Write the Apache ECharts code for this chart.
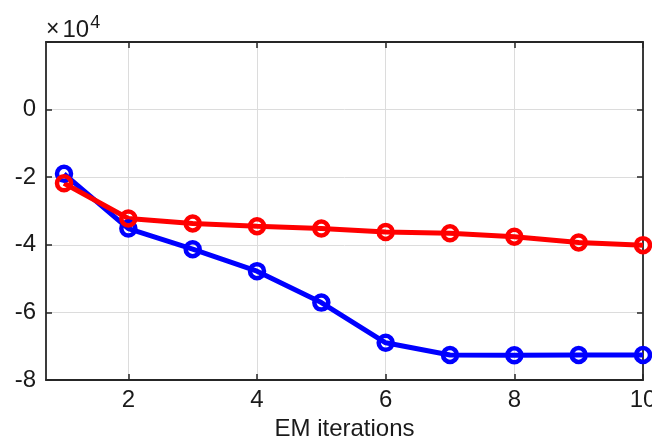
<!DOCTYPE html>
<html>
<head>
<meta charset="utf-8">
<script src="https://cdn.jsdelivr.net/npm/echarts@6/dist/echarts.min.js"></script>
<style>
  html, body { margin: 0; padding: 0; background: #fff; }
  #chart { width: 652px; height: 438px; }
</style>
</head>
<body>
<div id="chart"></div>
<script>
// EM iteration index
const iterations = [1, 2, 3, 4, 5, 6, 7, 8, 9, 10];
// objective values, in units of 1e4
const blueValues = [-1.9, -3.52, -4.13, -4.78, -5.71, -6.9, -7.26, -7.27, -7.26, -7.26];
const redValues = [-2.18, -3.22, -3.37, -3.45, -3.52, -3.62, -3.66, -3.76, -3.93, -4.01];
// axis ticks
const xTicks = [2, 4, 6, 8, 10];
const yTicks = [-8, -6, -4, -2, 0];
const xLabel = 'EM iterations';

const axisColor = '#262626';
const textColor = '#1a1a1a';
const font = 'Liberation Sans, Arial, sans-serif';

const chart = echarts.init(document.getElementById('chart'), null, { renderer: 'canvas' });

function pairs(vals) {
  return iterations.map((x, i) => [x, vals[i]]);
}

function lineSeries(vals, color) {
  return {
    type: 'line',
    data: pairs(vals),
    symbol: 'circle',
    symbolSize: 14,
    lineStyle: { color: color, width: 5 },
    itemStyle: { color: 'transparent', borderColor: color, borderWidth: 4.5 },
    emphasis: { disabled: true },
    animation: false,
    z: 3
  };
}

const option = {
  animation: false,
  grid: { left: 46, right: 9, top: 42, height: 338, outerBoundsMode: 'none', containLabel: false },
  graphic: [{
    type: 'text',
    left: 46,
    top: 14,
    style: {
      text: '{m|×}{b|10}{s|4}',
      fill: textColor,
      rich: {
        m: { fontSize: 23, fontFamily: font, fill: textColor, padding: [0, 3, 0, 0] },
        b: { fontSize: 24, fontFamily: font, fill: textColor },
        s: { fontSize: 18, fontFamily: font, fill: textColor, padding: [0, 0, 14, 1] }
      }
    }
  }],
  xAxis: [{
    type: 'value',
    min: 0.72,
    max: 10,
    name: xLabel,
    nameLocation: 'middle',
    nameGap: 33,
    nameTextStyle: { fontFamily: font, fontSize: 24, color: textColor },
    axisLine: { show: true, onZero: false, lineStyle: { color: axisColor, width: 1.8 } },
    axisTick: { show: true, inside: true, length: 6, customValues: xTicks, lineStyle: { color: axisColor, width: 1.5 } },
    axisLabel: { customValues: xTicks, fontFamily: font, fontSize: 24, color: textColor, margin: 8 },
    splitLine: { show: true, customValues: xTicks, lineStyle: { color: '#dcdcdc', width: 1 } }
  }, {
    type: 'value',
    position: 'top',
    min: 0.72,
    max: 10,
    axisLine: { show: true, onZero: false, lineStyle: { color: axisColor, width: 1.8 } },
    axisTick: { show: true, inside: true, length: 6, customValues: xTicks, lineStyle: { color: axisColor, width: 1.5 } },
    axisLabel: { show: false },
    splitLine: { show: false }
  }],
  yAxis: [{
    type: 'value',
    min: -8,
    max: 2,
    interval: 2,
    axisLine: { show: true, onZero: false, lineStyle: { color: axisColor, width: 1.8 } },
    axisTick: { show: true, inside: true, length: 6, lineStyle: { color: axisColor, width: 1.5 } },
    axisLabel: {
      fontFamily: font, fontSize: 24, color: textColor, margin: 10,
      formatter: v => (yTicks.indexOf(v) >= 0 ? String(v).replace('\u2212', '-') : '')
    },
    splitLine: { show: true, lineStyle: { color: '#dcdcdc', width: 1 } }
  }, {
    type: 'value',
    position: 'right',
    min: -8,
    max: 2,
    interval: 2,
    axisLine: { show: true, onZero: false, lineStyle: { color: axisColor, width: 1.8 } },
    axisTick: { show: true, inside: true, length: 6, lineStyle: { color: axisColor, width: 1.5 } },
    axisLabel: { show: false },
    splitLine: { show: false }
  }],
  series: [
    lineSeries(blueValues, '#0000ff'),
    lineSeries(redValues, '#ff0000')
  ]
};

chart.setOption(option);
</script>
</body>
</html>
